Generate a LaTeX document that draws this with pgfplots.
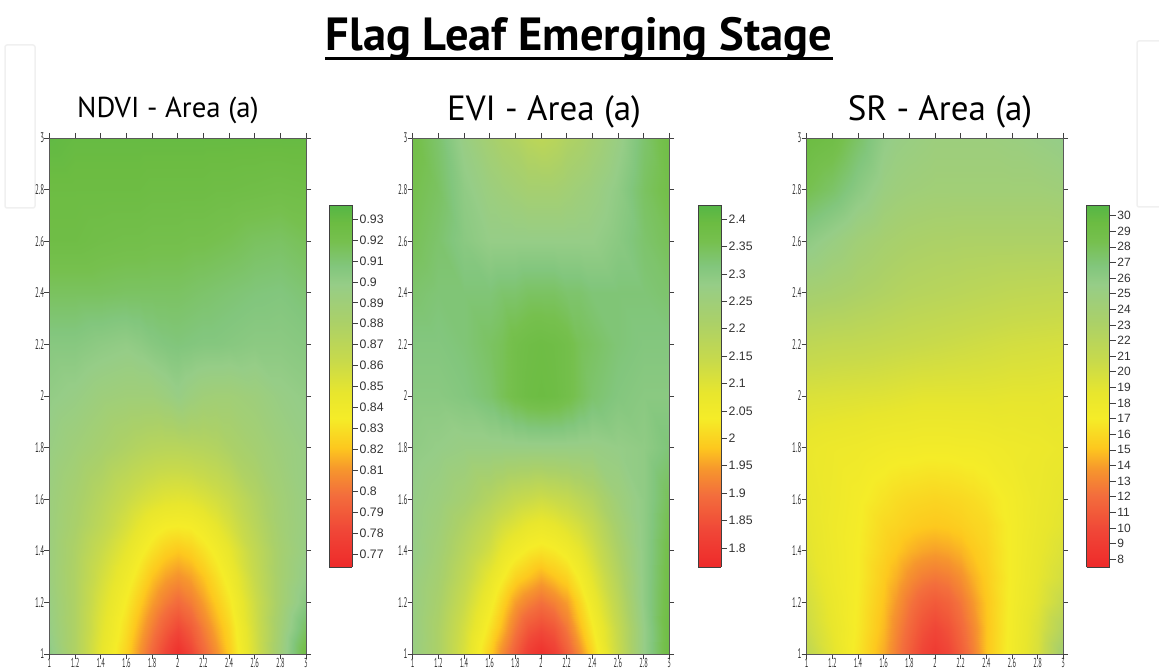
\documentclass[border=0pt]{standalone}
\usepackage{fontspec}
\setmainfont{PT Sans}
\newfontfamily\barfont{Liberation Sans}
\usepackage{pgfplots}
\pgfplotsset{compat=1.18}
\pgfplotsset{
  colormap={rdylgn}{
    rgb255(0pt)=(238,42,42);
    rgb255(10pt)=(240,70,55);
    rgb255(20pt)=(243,110,60);
    rgb255(27pt)=(246,150,45);
    rgb255(33pt)=(253,200,30);
    rgb255(41pt)=(245,236,40);
    rgb255(48pt)=(232,230,45);
    rgb255(57pt)=(200,218,75);
    rgb255(68pt)=(170,208,105);
    rgb255(78pt)=(150,205,135);
    rgb255(83pt)=(130,198,125);
    rgb255(90pt)=(118,192,78);
    rgb255(95pt)=(108,188,66);
    rgb255(100pt)=(85,182,70)
  },
  heat/.style={
    scale only axis, width=256.5pt, height=516pt,
    xmin=1,xmax=3,ymin=1,ymax=3, view={0}{90}, axis on top,
    xtick={1,1.2,1.4,1.6,1.8,2,2.2,2.4,2.6,2.8,3},
    ytick={1,1.2,1.4,1.6,1.8,2,2.2,2.4,2.6,2.8,3},
    tick pos=both, tick align=outside, major tick length=5pt,
    every tick/.style={black!75,line width=0.7pt},
    axis line style={black!65,line width=0.9pt},
    tick label style={font=\fontsize{14}{14}\selectfont,xscale=0.5,text=black!80,inner sep=0.5pt},
    xticklabel style={font=\fontsize{13}{13}\selectfont,inner sep=0pt,yshift=1pt},
    /pgf/number format/assume math mode=true,
  },
  bar/.style={
    scale only axis, width=23pt, height=362pt,
    xmin=0,xmax=1, view={0}{90}, axis on top,
    xtick=\empty,
    ytick pos=right, tick align=outside, major tick length=6pt,
    yticklabel pos=right,
    every tick/.style={black!75,line width=0.6pt},
    axis line style={black!75,line width=0.7pt},
    tick label style={font=\barfont\fontsize{12.3}{12.3}\selectfont,text=black!80,inner sep=1.5pt},
    /pgf/number format/assume math mode=true,
  },
}
\begin{document}
\begin{tikzpicture}[x=1pt,y=1pt]
\path[use as bounding box] (0,0) rectangle (1159,671);
\draw[black!6,line width=1.5pt,rounded corners=2pt] (5,463) rectangle (35,626);
\draw[black!6,line width=1.5pt,rounded corners=2pt] (1160,464) -- (1137,464) -- (1137,630) -- (1160,630);
\node[anchor=base,font=\bfseries\fontsize{46.5}{46.5}\selectfont] at (579,620) {Flag Leaf Emerging Stage};
\draw[black,line width=2.5pt] (325,612.5) -- (833,612.5);
\node[anchor=base,font=\fontsize{28.8}{29}\selectfont] at (168,553.5) {NDVI - Area (a)};
\node[anchor=base,font=\fontsize{35}{35}\selectfont] at (544,550.3) {EVI - Area (a)};
\node[anchor=base,font=\fontsize{35}{35}\selectfont] at (940,550) {SR - Area (a)};

\begin{axis}[at={(49.5pt,17pt)},anchor=south west,heat,
  point meta min=0.7638,point meta max=0.9367]
\addplot3[surf,shader=interp,mesh/cols=15] coordinates {
(1,1,0.902)(1.2,1,0.878)(1.4,1,0.847)(1.6,1,0.825)(1.7,1,0.810)(1.8,1,0.795)(1.9,1,0.780)(2,1,0.767)(2.1,1,0.780)(2.2,1,0.795)(2.3,1,0.808)(2.4,1,0.822)(2.6,1,0.856)(2.8,1,0.890)(3,1,0.925)
(1,1.1,0.897)(1.2,1.1,0.878)(1.4,1.1,0.850)(1.6,1.1,0.829)(1.7,1.1,0.816)(1.8,1.1,0.803)(1.9,1.1,0.791)(2,1.1,0.782)(2.1,1.1,0.791)(2.2,1.1,0.803)(2.3,1.1,0.815)(2.4,1.1,0.826)(2.6,1.1,0.858)(2.8,1.1,0.888)(3,1.1,0.915)
(1,1.2,0.895)(1.2,1.2,0.878)(1.4,1.2,0.853)(1.6,1.2,0.834)(1.7,1.2,0.823)(1.8,1.2,0.812)(1.9,1.2,0.803)(2,1.2,0.797)(2.1,1.2,0.803)(2.2,1.2,0.812)(2.3,1.2,0.822)(2.4,1.2,0.832)(2.6,1.2,0.860)(2.8,1.2,0.885)(3,1.2,0.905)
(1,1.3,0.893)(1.2,1.3,0.878)(1.4,1.3,0.857)(1.6,1.3,0.840)(1.7,1.3,0.830)(1.8,1.3,0.820)(1.9,1.3,0.813)(2,1.3,0.809)(2.1,1.3,0.813)(2.2,1.3,0.820)(2.3,1.3,0.829)(2.4,1.3,0.839)(2.6,1.3,0.864)(2.8,1.3,0.885)(3,1.3,0.900)
(1,1.4,0.893)(1.2,1.4,0.879)(1.4,1.4,0.862)(1.6,1.4,0.847)(1.7,1.4,0.838)(1.8,1.4,0.830)(1.9,1.4,0.824)(2,1.4,0.821)(2.1,1.4,0.824)(2.2,1.4,0.830)(2.3,1.4,0.837)(2.4,1.4,0.846)(2.6,1.4,0.867)(2.8,1.4,0.885)(3,1.4,0.897)
(1,1.5,0.893)(1.2,1.5,0.882)(1.4,1.5,0.869)(1.6,1.5,0.855)(1.7,1.5,0.847)(1.8,1.5,0.840)(1.9,1.5,0.836)(2,1.5,0.835)(2.1,1.5,0.836)(2.2,1.5,0.840)(2.3,1.5,0.847)(2.4,1.5,0.855)(2.6,1.5,0.872)(2.8,1.5,0.887)(3,1.5,0.896)
(1,1.6,0.893)(1.2,1.6,0.884)(1.4,1.6,0.873)(1.6,1.6,0.862)(1.7,1.6,0.857)(1.8,1.6,0.853)(1.9,1.6,0.850)(2,1.6,0.849)(2.1,1.6,0.850)(2.2,1.6,0.853)(2.3,1.6,0.857)(2.4,1.6,0.862)(2.6,1.6,0.876)(2.8,1.6,0.888)(3,1.6,0.896)
(1,1.8,0.896)(1.2,1.8,0.890)(1.4,1.8,0.884)(1.6,1.8,0.878)(1.7,1.8,0.875)(1.8,1.8,0.873)(1.9,1.8,0.872)(2,1.8,0.872)(2.1,1.8,0.873)(2.2,1.8,0.874)(2.3,1.8,0.876)(2.4,1.8,0.880)(2.6,1.8,0.886)(2.8,1.8,0.892)(3,1.8,0.897)
(1,2,0.900)(1.2,2,0.897)(1.4,2,0.892)(1.6,2,0.890)(1.7,2,0.890)(1.8,2,0.890)(1.9,2,0.893)(2,2,0.897)(2.1,2,0.893)(2.2,2,0.890)(2.3,2,0.889)(2.4,2,0.889)(2.6,2,0.892)(2.8,2,0.897)(3,2,0.900)
(1,2.2,0.905)(1.2,2.2,0.905)(1.4,2.2,0.902)(1.6,2.2,0.900)(1.7,2.2,0.902)(1.8,2.2,0.905)(1.9,2.2,0.907)(2,2.2,0.908)(2.1,2.2,0.907)(2.2,2.2,0.906)(2.3,2.2,0.906)(2.4,2.2,0.905)(2.6,2.2,0.903)(2.8,2.2,0.903)(3,2.2,0.905)
(1,2.4,0.915)(1.2,2.4,0.915)(1.4,2.4,0.915)(1.6,2.4,0.914)(1.7,2.4,0.914)(1.8,2.4,0.914)(1.9,2.4,0.914)(2,2.4,0.914)(2.1,2.4,0.913)(2.2,2.4,0.912)(2.3,2.4,0.911)(2.4,2.4,0.910)(2.6,2.4,0.908)(2.8,2.4,0.907)(3,2.4,0.910)
(1,2.6,0.925)(1.2,2.6,0.925)(1.4,2.6,0.923)(1.6,2.6,0.922)(1.7,2.6,0.922)(1.8,2.6,0.921)(1.9,2.6,0.921)(2,2.6,0.921)(2.1,2.6,0.920)(2.2,2.6,0.920)(2.3,2.6,0.919)(2.4,2.6,0.918)(2.6,2.6,0.915)(2.8,2.6,0.914)(3,2.6,0.917)
(1,2.8,0.927)(1.2,2.8,0.927)(1.4,2.8,0.927)(1.6,2.8,0.927)(1.7,2.8,0.927)(1.8,2.8,0.926)(1.9,2.8,0.926)(2,2.8,0.926)(2.1,2.8,0.926)(2.2,2.8,0.926)(2.3,2.8,0.925)(2.4,2.8,0.925)(2.6,2.8,0.924)(2.8,2.8,0.923)(3,2.8,0.924)
(1,3,0.932)(1.2,3,0.930)(1.4,3,0.930)(1.6,3,0.930)(1.7,3,0.930)(1.8,3,0.930)(1.9,3,0.930)(2,3,0.930)(2.1,3,0.930)(2.2,3,0.930)(2.3,3,0.930)(2.4,3,0.930)(2.6,3,0.930)(2.8,3,0.930)(3,3,0.930)
};
\end{axis}
\begin{axis}[at={(329pt,104pt)},anchor=south west,bar,ymin=0.7638,ymax=0.9367,
  point meta min=0.7638,point meta max=0.9367,
  ytick={0.77,0.78,0.79,0.8,0.81,0.82,0.83,0.84,0.85,0.86,0.87,0.88,0.89,0.9,0.91,0.92,0.93}]
\addplot3[surf,shader=interp,mesh/cols=3] coordinates {
(0,0.7638,0.7638)(0.5,0.7638,0.7638)(1,0.7638,0.7638)
(0,0.9367,0.9367)(0.5,0.9367,0.9367)(1,0.9367,0.9367)
};
\end{axis}

\begin{axis}[at={(412.7pt,17pt)},anchor=south west,heat,
  point meta min=1.765,point meta max=2.4256]
\addplot3[surf,shader=interp,mesh/cols=15] coordinates {
(1,1,2.27)(1.2,1,2.21)(1.4,1,2.11)(1.6,1,1.99)(1.7,1,1.93)(1.8,1,1.87)(1.9,1,1.81)(2,1,1.78)(2.1,1,1.81)(2.2,1,1.87)(2.3,1,1.93)(2.4,1,2.00)(2.6,1,2.14)(2.8,1,2.28)(3,1,2.385)
(1,1.1,2.27)(1.2,1.1,2.21)(1.4,1.1,2.12)(1.6,1.1,2.02)(1.7,1.1,1.97)(1.8,1.1,1.91)(1.9,1.1,1.86)(2,1.1,1.84)(2.1,1.1,1.86)(2.2,1.1,1.91)(2.3,1.1,1.97)(2.4,1.1,2.03)(2.6,1.1,2.15)(2.8,1.1,2.28)(3,1.1,2.385)
(1,1.2,2.27)(1.2,1.2,2.22)(1.4,1.2,2.14)(1.6,1.2,2.05)(1.7,1.2,2.00)(1.8,1.2,1.95)(1.9,1.2,1.92)(2,1.2,1.90)(2.1,1.2,1.92)(2.2,1.2,1.95)(2.3,1.2,2.00)(2.4,1.2,2.06)(2.6,1.2,2.17)(2.8,1.2,2.29)(3,1.2,2.38)
(1,1.3,2.27)(1.2,1.3,2.23)(1.4,1.3,2.16)(1.6,1.3,2.08)(1.7,1.3,2.04)(1.8,1.3,2.00)(1.9,1.3,1.98)(2,1.3,1.96)(2.1,1.3,1.98)(2.2,1.3,2.00)(2.3,1.3,2.04)(2.4,1.3,2.09)(2.6,1.3,2.19)(2.8,1.3,2.29)(3,1.3,2.375)
(1,1.4,2.28)(1.2,1.4,2.24)(1.4,1.4,2.18)(1.6,1.4,2.12)(1.7,1.4,2.08)(1.8,1.4,2.05)(1.9,1.4,2.03)(2,1.4,2.02)(2.1,1.4,2.03)(2.2,1.4,2.05)(2.3,1.4,2.08)(2.4,1.4,2.12)(2.6,1.4,2.21)(2.8,1.4,2.29)(3,1.4,2.37)
(1,1.5,2.28)(1.2,1.5,2.25)(1.4,1.5,2.20)(1.6,1.5,2.15)(1.7,1.5,2.12)(1.8,1.5,2.10)(1.9,1.5,2.08)(2,1.5,2.07)(2.1,1.5,2.08)(2.2,1.5,2.10)(2.3,1.5,2.12)(2.4,1.5,2.15)(2.6,1.5,2.23)(2.8,1.5,2.29)(3,1.5,2.36)
(1,1.6,2.28)(1.2,1.6,2.26)(1.4,1.6,2.23)(1.6,1.6,2.19)(1.7,1.6,2.17)(1.8,1.6,2.15)(1.9,1.6,2.14)(2,1.6,2.13)(2.1,1.6,2.14)(2.2,1.6,2.15)(2.3,1.6,2.17)(2.4,1.6,2.19)(2.6,1.6,2.25)(2.8,1.6,2.29)(3,1.6,2.35)
(1,1.8,2.29)(1.2,1.8,2.28)(1.4,1.8,2.27)(1.6,1.8,2.27)(1.7,1.8,2.27)(1.8,1.8,2.27)(1.9,1.8,2.27)(2,1.8,2.27)(2.1,1.8,2.27)(2.2,1.8,2.27)(2.3,1.8,2.27)(2.4,1.8,2.27)(2.6,1.8,2.28)(2.8,1.8,2.29)(3,1.8,2.32)
(1,2,2.30)(1.2,2,2.30)(1.4,2,2.31)(1.6,2,2.33)(1.7,2,2.35)(1.8,2,2.37)(1.9,2,2.385)(2,2,2.39)(2.1,2,2.385)(2.2,2,2.37)(2.3,2,2.35)(2.4,2,2.33)(2.6,2,2.31)(2.8,2,2.30)(3,2,2.30)
(1,2.2,2.31)(1.2,2.2,2.31)(1.4,2.2,2.32)(1.6,2.2,2.34)(1.7,2.2,2.35)(1.8,2.2,2.37)(1.9,2.2,2.38)(2,2.2,2.385)(2.1,2.2,2.38)(2.2,2.2,2.37)(2.3,2.2,2.35)(2.4,2.2,2.34)(2.6,2.2,2.32)(2.8,2.2,2.31)(3,2.2,2.31)
(1,2.4,2.33)(1.2,2.4,2.32)(1.4,2.4,2.32)(1.6,2.4,2.32)(1.7,2.4,2.33)(1.8,2.4,2.33)(1.9,2.4,2.34)(2,2.4,2.34)(2.1,2.4,2.34)(2.2,2.4,2.33)(2.3,2.4,2.33)(2.4,2.4,2.32)(2.6,2.4,2.32)(2.8,2.4,2.32)(3,2.4,2.33)
(1,2.6,2.35)(1.2,2.6,2.33)(1.4,2.6,2.30)(1.6,2.6,2.28)(1.7,2.6,2.28)(1.8,2.6,2.28)(1.9,2.6,2.28)(2,2.6,2.28)(2.1,2.6,2.28)(2.2,2.6,2.28)(2.3,2.6,2.28)(2.4,2.6,2.28)(2.6,2.6,2.30)(2.8,2.6,2.33)(3,2.6,2.35)
(1,2.8,2.36)(1.2,2.8,2.34)(1.4,2.8,2.29)(1.6,2.8,2.26)(1.7,2.8,2.25)(1.8,2.8,2.24)(1.9,2.8,2.23)(2,2.8,2.23)(2.1,2.8,2.23)(2.2,2.8,2.24)(2.3,2.8,2.25)(2.4,2.8,2.26)(2.6,2.8,2.29)(2.8,2.8,2.34)(3,2.8,2.37)
(1,3,2.37)(1.2,3,2.33)(1.4,3,2.27)(1.6,3,2.23)(1.7,3,2.21)(1.8,3,2.20)(1.9,3,2.18)(2,3,2.17)(2.1,3,2.18)(2.2,3,2.20)(2.3,3,2.21)(2.4,3,2.23)(2.6,3,2.27)(2.8,3,2.33)(3,3,2.38)
};
\end{axis}
\begin{axis}[at={(698pt,104pt)},anchor=south west,bar,ymin=1.765,ymax=2.4256,
  point meta min=1.765,point meta max=2.4256,
  ytick={1.8,1.85,1.9,1.95,2,2.05,2.1,2.15,2.2,2.25,2.3,2.35,2.4}]
\addplot3[surf,shader=interp,mesh/cols=3] coordinates {
(0,1.765,1.765)(0.5,1.765,1.765)(1,1.765,1.765)
(0,2.4256,2.4256)(0.5,2.4256,2.4256)(1,2.4256,2.4256)
};
\end{axis}

\begin{axis}[at={(806.7pt,17pt)},anchor=south west,heat,
  point meta min=7.5,point meta max=30.68]
\addplot3[surf,shader=interp,mesh/cols=15] coordinates {
(1,1,21.5)(1.2,1,19)(1.4,1,16.6)(1.6,1,14.3)(1.7,1,12.8)(1.8,1,11.2)(1.9,1,9.7)(2,1,8.8)(2.1,1,9.7)(2.2,1,11.2)(2.3,1,12.8)(2.4,1,15)(2.6,1,17.5)(2.8,1,19.7)(3,1,24)
(1,1.1,20.5)(1.2,1.1,18.6)(1.4,1.1,16.8)(1.6,1.1,14.7)(1.7,1.1,13.2)(1.8,1.1,11.8)(1.9,1.1,10.5)(2,1.1,9.8)(2.1,1.1,10.5)(2.2,1.1,11.8)(2.3,1.1,13.2)(2.4,1.1,15)(2.6,1.1,17.4)(2.8,1.1,19.5)(3,1.1,22.5)
(1,1.2,20)(1.2,1.2,18.3)(1.4,1.2,16.9)(1.6,1.2,15)(1.7,1.2,13.8)(1.8,1.2,12.5)(1.9,1.2,11.5)(2,1.2,11)(2.1,1.2,11.5)(2.2,1.2,12.5)(2.3,1.2,13.8)(2.4,1.2,15.1)(2.6,1.2,17.3)(2.8,1.2,19)(3,1.2,21)
(1,1.3,19.5)(1.2,1.3,18)(1.4,1.3,17)(1.6,1.3,15.3)(1.7,1.3,14.5)(1.8,1.3,13.5)(1.9,1.3,12.8)(2,1.3,12.5)(2.1,1.3,12.8)(2.2,1.3,13.5)(2.3,1.3,14.5)(2.4,1.3,15.4)(2.6,1.3,17.2)(2.8,1.3,18.7)(3,1.3,20)
(1,1.4,19)(1.2,1.4,17.9)(1.4,1.4,17)(1.6,1.4,15.7)(1.7,1.4,15.2)(1.8,1.4,14.6)(1.9,1.4,14.2)(2,1.4,14)(2.1,1.4,14.2)(2.2,1.4,14.6)(2.3,1.4,15.2)(2.4,1.4,15.7)(2.6,1.4,17.2)(2.8,1.4,18.5)(3,1.4,19.5)
(1,1.5,18.8)(1.2,1.5,17.8)(1.4,1.5,17.1)(1.6,1.5,16)(1.7,1.5,15.8)(1.8,1.5,15.5)(1.9,1.5,15.3)(2,1.5,15.2)(2.1,1.5,15.3)(2.2,1.5,15.5)(2.3,1.5,15.8)(2.4,1.5,16)(2.6,1.5,17.2)(2.8,1.5,18.3)(3,1.5,19)
(1,1.6,18.6)(1.2,1.6,17.9)(1.4,1.6,17.2)(1.6,1.6,16.5)(1.7,1.6,16.2)(1.8,1.6,16)(1.9,1.6,15.9)(2,1.6,15.8)(2.1,1.6,15.9)(2.2,1.6,16)(2.3,1.6,16.2)(2.4,1.6,16.5)(2.6,1.6,17.3)(2.8,1.6,18.2)(3,1.6,18.8)
(1,1.8,18.3)(1.2,1.8,18)(1.4,1.8,17.8)(1.6,1.8,17.5)(1.7,1.8,17.4)(1.8,1.8,17.4)(1.9,1.8,17.3)(2,1.8,17.3)(2.1,1.8,17.3)(2.2,1.8,17.4)(2.3,1.8,17.4)(2.4,1.8,17.5)(2.6,1.8,17.8)(2.8,1.8,18)(3,1.8,18.3)
(1,2,19.5)(1.2,2,19.4)(1.4,2,19.3)(1.6,2,19.2)(1.7,2,19.1)(1.8,2,19)(1.9,2,18.9)(2,2,18.9)(2.1,2,18.9)(2.2,2,18.9)(2.3,2,18.9)(2.4,2,18.9)(2.6,2,18.8)(2.8,2,18.8)(3,2,18.7)
(1,2.2,21.5)(1.2,2.2,21.3)(1.4,2.2,21.2)(1.6,2.2,21)(1.7,2.2,20.9)(1.8,2.2,20.8)(1.9,2.2,20.7)(2,2.2,20.6)(2.1,2.2,20.5)(2.2,2.2,20.4)(2.3,2.2,20.3)(2.4,2.2,20.2)(2.6,2.2,20)(2.8,2.2,19.9)(3,2.2,19.8)
(1,2.4,23.8)(1.2,2.4,23.5)(1.4,2.4,23.1)(1.6,2.4,22.7)(1.7,2.4,22.5)(1.8,2.4,22.3)(1.9,2.4,22.2)(2,2.4,22.1)(2.1,2.4,22)(2.2,2.4,21.9)(2.3,2.4,21.8)(2.4,2.4,21.7)(2.6,2.4,21.5)(2.8,2.4,21.4)(3,2.4,21.3)
(1,2.6,26)(1.2,2.6,25.2)(1.4,2.6,24.3)(1.6,2.6,23.7)(1.7,2.6,23.5)(1.8,2.6,23.3)(1.9,2.6,23.2)(2,2.6,23.1)(2.1,2.6,23.1)(2.2,2.6,23)(2.3,2.6,23)(2.4,2.6,23)(2.6,2.6,23)(2.8,2.6,23)(3,2.6,23)
(1,2.8,28.3)(1.2,2.8,27.5)(1.4,2.8,26.2)(1.6,2.8,25)(1.7,2.8,24.7)(1.8,2.8,24.5)(1.9,2.8,24.4)(2,2.8,24.3)(2.1,2.8,24.3)(2.2,2.8,24.3)(2.3,2.8,24.3)(2.4,2.8,24.3)(2.6,2.8,24.3)(2.8,2.8,24.3)(3,2.8,24.5)
(1,3,29.5)(1.2,3,29)(1.4,3,27.5)(1.6,3,25.8)(1.7,3,25.4)(1.8,3,25.2)(1.9,3,25)(2,3,24.8)(2.1,3,24.8)(2.2,3,24.8)(2.3,3,24.8)(2.4,3,24.8)(2.6,3,25)(2.8,3,25.3)(3,3,25.7)
};
\end{axis}
\begin{axis}[at={(1086.7pt,104pt)},anchor=south west,bar,ymin=7.5,ymax=30.68,
  point meta min=7.5,point meta max=30.68,
  ytick={8,9,...,30},tick label style={font=\barfont\fontsize{12}{12}\selectfont}]
\addplot3[surf,shader=interp,mesh/cols=3] coordinates {
(0,7.5,7.5)(0.5,7.5,7.5)(1,7.5,7.5)
(0,30.68,30.68)(0.5,30.68,30.68)(1,30.68,30.68)
};
\end{axis}
\end{tikzpicture}
\end{document}
